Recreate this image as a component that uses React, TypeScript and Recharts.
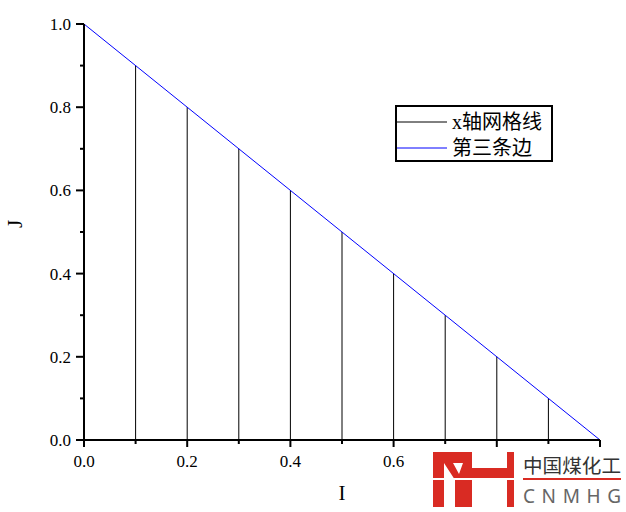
import React from 'react';
import { ComposedChart, Line, XAxis, YAxis, ReferenceLine, Legend, Label } from 'recharts';

// ---- data ----
const axisTicks = [0, 0.1, 0.2, 0.3, 0.4, 0.5, 0.6, 0.7, 0.8, 0.9, 1.0];
// x tick labels hidden under the watermark in the reference
const hiddenXLabels = [0.8, 1.0];
const gridX = [0.1, 0.2, 0.3, 0.4, 0.5, 0.6, 0.7, 0.8, 0.9];
const gridTop = [0.9, 0.8, 0.7, 0.6, 0.5, 0.4, 0.3, 0.2, 0.1];
const edgeX = [0, 1];
const edgeY = [1, 0];
const legendNames = ['x轴网格线', '第三条边'];
const legendColors = ['#000000', '#0000ff'];
const xTitle = 'I';
const yTitle = 'J';
const wmTitle = '中国煤化工';
const wmSub = 'CNMHG';

const edgeData = edgeX.map((x, i) => ({ x, y: edgeY[i] }));

const SERIF = '"Liberation Serif", "Times New Roman", serif';
const CJK = '"Liberation Serif", "Noto Sans CJK SC", serif';

const isMajor = (v: number) => Math.round(v * 10) % 2 === 0;

function XTick(props: any) {
  const { x, y, payload } = props;
  const v = payload.value as number;
  const major = isMajor(v);
  const showLabel = major && !hiddenXLabels.some((h) => Math.abs(h - v) < 1e-9);
  return (
    <g>
      <line x1={x} x2={x} y1={y} y2={y + (major ? 7 : 4)} stroke="#000" strokeWidth={2} />
      {showLabel && (
        <text x={x} y={y + 27} textAnchor="middle" fontFamily={SERIF} fontSize={17} fill="#000">
          {v.toFixed(1)}
        </text>
      )}
    </g>
  );
}

function YTick(props: any) {
  const { x, y, payload } = props;
  const v = payload.value as number;
  const major = isMajor(v);
  return (
    <g>
      <line x1={x - (major ? 8 : 4)} x2={x} y1={y} y2={y} stroke="#000" strokeWidth={2} />
      {major && (
        <text x={x - 13} y={y + 6} textAnchor="end" fontFamily={SERIF} fontSize={17} fill="#000">
          {v.toFixed(1)}
        </text>
      )}
    </g>
  );
}

function LegendBox() {
  return (
    <div
      style={{
        boxSizing: 'border-box',
        width: 158,
        height: 57,
        border: '2px solid #000',
        background: '#fff',
        paddingTop: 2,
      }}
    >
      {legendNames.map((name, i) => (
        <div key={name} style={{ display: 'flex', alignItems: 'center', height: 26 }}>
          <svg width={50} height={4} style={{ display: 'block' }}>
            <line x1={0} x2={50} y1={2} y2={2} stroke={legendColors[i]} strokeWidth={1} />
          </svg>
          <span style={{ marginLeft: 5, fontSize: 20, fontFamily: CJK, lineHeight: '26px', color: '#000', whiteSpace: 'nowrap' }}>
            {name}
          </span>
        </div>
      ))}
    </div>
  );
}

function Watermark() {
  const red = '#d92b23';
  return (
    <svg width={626} height={512} style={{ position: 'absolute', left: 0, top: 0, pointerEvents: 'none' }}>
      <rect x={425} y={449} width={201} height={63} fill="#fff" />
      <g fill={red}>
        <rect x={433} y={452} width={11} height={55} />
        <rect x={433} y={452} width={38} height={11} />
        <polygon points="444,463 453,463 459,474 463,463 463,480 455,480" />
        <rect x={455} y={479} width={9} height={28} />
        <rect x={463} y={452} width={9} height={55} />
        <rect x={472} y={468} width={36} height={11} />
        <rect x={507} y={452} width={7} height={55} />
      </g>
      <rect x={432} y={478} width={84} height={2} fill="#fff" />
      <text x={523} y={473} fontFamily='"Noto Sans CJK SC", sans-serif' fontSize={19} fill="#333" textLength={98} lengthAdjust="spacingAndGlyphs">
        {wmTitle}
      </text>
      <rect x={523} y={478} width={98} height={2} fill={red} />
      <text x={523} y={503} fontFamily='"Noto Sans", sans-serif' fontSize={19} fill="#666" textLength={98} lengthAdjust="spacing">
        {wmSub}
      </text>
    </svg>
  );
}

export default function App() {
  return (
    <div style={{ position: 'absolute', left: 0, top: 0, width: 626, height: 512, background: '#fff' }}>
      <ComposedChart width={626} height={512} data={edgeData} margin={{ top: 24, right: 26, bottom: 0, left: 0 }}>
        <XAxis
          dataKey="x"
          type="number"
          domain={[0, 1]}
          ticks={axisTicks}
          interval={0}
          height={72}
          tickSize={0}
          tickMargin={0}
          tickLine={false}
          tick={<XTick />}
          axisLine={{ stroke: '#000', strokeWidth: 2 }}
        >
          <Label
            content={(p: any) => {
              const vb = p.viewBox;
              return (
                <text x={vb.x + vb.width / 2} y={vb.y + 60} textAnchor="middle" fontFamily={SERIF} fontSize={21} fill="#000">
                  {xTitle}
                </text>
              );
            }}
          />
        </XAxis>
        <YAxis
          type="number"
          domain={[0, 1]}
          ticks={axisTicks}
          interval={0}
          width={84}
          tickSize={0}
          tickMargin={0}
          tickLine={false}
          tick={<YTick />}
          axisLine={{ stroke: '#000', strokeWidth: 2 }}
        >
          <Label
            content={(p: any) => {
              const vb = p.viewBox;
              const cx = vb.x + 22;
              const cy = vb.y + 200;
              return (
                <text x={cx} y={cy} transform={`rotate(-90, ${cx}, ${cy})`} textAnchor="middle" fontFamily={SERIF} fontSize={21} fill="#000">
                  {yTitle}
                </text>
              );
            }}
          />
        </YAxis>
        {gridX.map((gx, i) => (
          <ReferenceLine
            key={gx}
            segment={[
              { x: gx, y: 0 },
              { x: gx, y: gridTop[i] },
            ]}
            stroke="#000"
            strokeWidth={1}
          />
        ))}
        <Line
          dataKey="y"
          type="linear"
          stroke="#0000ff"
          strokeWidth={1}
          dot={false}
          activeDot={false}
          isAnimationActive={false}
          name={legendNames[1]}
        />
        <Legend
          layout="vertical"
          align="center"
          verticalAlign="middle"
          content={<LegendBox />}
          wrapperStyle={{ left: 395, top: 105, width: 158, height: 57 }}
        />
      </ComposedChart>
      <Watermark />
    </div>
  );
}
